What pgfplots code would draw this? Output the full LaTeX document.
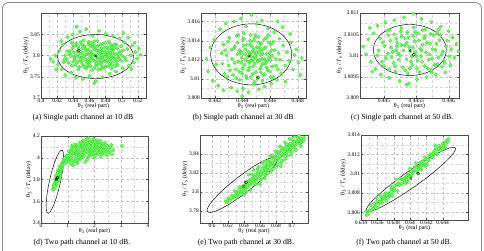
\documentclass[border=0pt]{standalone}
\usepackage{fontspec}
\setmainfont{Liberation Serif}
\usepackage{pgfplots}
\pgfplotsset{compat=1.18}

\definecolor{cloudedge}{RGB}{45,225,40}
\definecolor{cloudfill}{RGB}{125,252,105}
\definecolor{framegray}{RGB}{140,140,140}

\pgfplotsset{
  panel/.style={
    scale only axis,
    axis line style={black!70, line width=0.4pt},
    tick style={black!70, line width=0.3pt},
    major tick length=2pt, minor tick length=0pt,
    grid=both,
    major grid style={densely dashed, gray!45, line width=0.3pt},
    minor grid style={densely dashed, gray!30, line width=0.3pt},
    minor tick num=1,
    tick label style={font=\fontsize{5.5}{6}\selectfont, inner sep=1pt},
    label style={font=\fontsize{6}{7}\selectfont},
    xlabel={θ\textsubscript{1} (real part)},
    ylabel={θ\textsubscript{3} / \textit{T}\textsubscript{s} (delay)},
    xlabel style={yshift=4pt},
    ylabel style={yshift=-3pt},
    scaled ticks=false,
    /pgf/number format/assume math mode=true,
    xticklabel style={/pgf/number format/fixed, /pgf/number format/precision=4},
    yticklabel style={/pgf/number format/fixed, /pgf/number format/precision=4},
  },
  cloud/.style={only marks, mark=*, mark size=1.7pt,
    mark options={draw=cloudedge, fill=cloudfill, line width=0.35pt}},
  est/.style={only marks, mark=x, mark size=1.6pt, black, mark options={line width=0.4pt}},
  truth/.style={only marks, mark=o, mark size=1.6pt, black, mark options={line width=0.4pt}},
}

\begin{document}
\begin{tikzpicture}
\useasboundingbox (0pt,0pt) rectangle (484pt,250pt);
\draw[framegray, line width=0.8pt, rounded corners=6pt]
  (2.5pt,-12pt) -- (2.5pt,247.5pt) -- (481.5pt,247.5pt) -- (481.5pt,-12pt);

% (a) single path, 10 dB
\begin{axis}[panel, at={(41pt,152pt)}, anchor=south west, width=105pt, height=85pt,
  xmin=0.4, xmax=0.53, ymin=3.7, ymax=3.9,
  xtick={0.4,0.42,0.44,0.46,0.48,0.5,0.52}, ytick={3.7,3.75,3.8,3.85}]
\addplot[cloud] coordinates {
(0.432,3.792) (0.436,3.811) (0.438,3.776) (0.441,3.824) (0.443,3.800) (0.445,3.785) (0.446,3.768) (0.447,3.816) (0.449,3.831) (0.450,3.795) (0.451,3.807) (0.452,3.779) (0.454,3.822) (0.455,3.790) (0.456,3.771) (0.457,3.803) (0.458,3.814) (0.459,3.828) (0.460,3.784) (0.461,3.797) (0.462,3.809) (0.463,3.766) (0.464,3.820) (0.465,3.789) (0.466,3.833) (0.467,3.801) (0.468,3.776) (0.469,3.812) (0.470,3.793) (0.471,3.824) (0.472,3.783) (0.473,3.805) (0.474,3.769) (0.475,3.817) (0.476,3.797) (0.477,3.828) (0.478,3.787) (0.479,3.810) (0.480,3.775) (0.481,3.802) (0.482,3.819) (0.483,3.791) (0.484,3.832) (0.485,3.781) (0.486,3.806) (0.487,3.770) (0.488,3.814) (0.489,3.796) (0.490,3.825) (0.491,3.786) (0.492,3.803) (0.494,3.817) (0.495,3.778) (0.496,3.797) (0.498,3.810) (0.499,3.788) (0.440,3.808) (0.444,3.829) (0.448,3.773) (0.453,3.836) (0.437,3.799) (0.434,3.783) (0.442,3.790) (0.447,3.797) (0.455,3.802) (0.463,3.795) (0.471,3.806) (0.479,3.797) (0.486,3.792) (0.493,3.793) (0.458,3.791) (0.466,3.815) (0.474,3.789) (0.483,3.808) (0.452,3.818) (0.470,3.779) (0.461,3.823) (0.476,3.772)
(0.435,3.805) (0.439,3.818) (0.441,3.795) (0.443,3.778) (0.446,3.822) (0.448,3.804) (0.450,3.786) (0.451,3.826) (0.453,3.798) (0.454,3.773) (0.456,3.812) (0.457,3.784) (0.459,3.832) (0.460,3.806) (0.461,3.775) (0.462,3.789) (0.464,3.803) (0.465,3.826) (0.466,3.770) (0.467,3.786) (0.468,3.820) (0.469,3.797) (0.470,3.834) (0.471,3.767) (0.472,3.812) (0.473,3.792) (0.474,3.826) (0.475,3.780) (0.476,3.808) (0.477,3.790) (0.478,3.818) (0.479,3.771) (0.480,3.830) (0.481,3.785) (0.482,3.797) (0.483,3.775) (0.484,3.815) (0.485,3.800) (0.486,3.826) (0.487,3.787) (0.488,3.778) (0.489,3.808) (0.490,3.800) (0.491,3.818) (0.492,3.775) (0.493,3.826) (0.494,3.786) (0.495,3.805) (0.497,3.792) (0.499,3.822) (0.500,3.801) (0.502,3.812) (0.504,3.795) (0.445,3.810) (0.449,3.790) (0.455,3.815) (0.458,3.777) (0.463,3.830) (0.469,3.782) (0.475,3.800) (0.478,3.806) (0.482,3.788) (0.487,3.820) (0.440,3.786) (0.438,3.830) (0.433,3.810) (0.430,3.800) (0.428,3.784)
(0.412,3.792) (0.415,3.785) (0.418,3.800) (0.421,3.779) (0.423,3.812) (0.426,3.768) (0.427,3.826) (0.429,3.791) (0.430,3.754) (0.433,3.843) (0.437,3.760) (0.439,3.849) (0.443,3.748) (0.448,3.856) (0.452,3.745) (0.456,3.862) (0.460,3.752) (0.464,3.846) (0.468,3.740) (0.472,3.858) (0.476,3.749) (0.480,3.851) (0.485,3.757) (0.489,3.845) (0.493,3.762) (0.497,3.840) (0.501,3.770) (0.503,3.831) (0.505,3.789) (0.507,3.815) (0.509,3.776) (0.511,3.800) (0.513,3.823) (0.515,3.784) (0.517,3.808) (0.519,3.793) (0.521,3.817) (0.523,3.802) (0.512,3.768) (0.508,3.842) (0.516,3.830) (0.502,3.853) (0.444,3.868) (0.466,3.735) (0.425,3.834) (0.419,3.767)
};
\draw[black, line width=0.45pt] (axis cs:0.4675,3.7976) ellipse [x radius=38pt, y radius=22pt];
\addplot[truth] coordinates {(0.4467,3.8112)};
\addplot[est] coordinates {(0.4675,3.7993)};
\end{axis}

% (b) single path, 30 dB
\begin{axis}[panel, at={(201pt,152pt)}, anchor=south west, width=105pt, height=85pt,
  xmin=0.441, xmax=0.4486, ymin=3.808, ymax=3.8169,
  xtick={0.442,0.444,0.446,0.448}, ytick={3.808,3.81,3.812,3.814,3.816}]
\addplot[cloud] coordinates {
(0.44325,3.8121) (0.44338,3.8132) (0.44351,3.8110) (0.44364,3.8138) (0.44372,3.8118) (0.44385,3.8127) (0.44396,3.8106) (0.44402,3.8141) (0.44415,3.8115) (0.44423,3.8131) (0.44436,3.8123) (0.44441,3.8109) (0.44453,3.8136) (0.44460,3.8119) (0.44468,3.8128) (0.44475,3.8113) (0.44482,3.8140) (0.44490,3.8124) (0.44497,3.8107) (0.44505,3.8133) (0.44512,3.8118) (0.44520,3.8129) (0.44528,3.8111) (0.44535,3.8137) (0.44543,3.8121) (0.44550,3.8104) (0.44558,3.8132) (0.44566,3.8116) (0.44574,3.8126) (0.44583,3.8109) (0.44591,3.8138) (0.44600,3.8120) (0.44610,3.8130) (0.44618,3.8113) (0.44332,3.8104) (0.44358,3.8145) (0.44380,3.8099) (0.44410,3.8148) (0.44430,3.8101) (0.44458,3.8146) (0.44486,3.8097) (0.44515,3.8144) (0.44545,3.8098) (0.44570,3.8143) (0.44605,3.8102) (0.44625,3.8139) (0.44640,3.8121) (0.44655,3.8110) (0.44390,3.8117) (0.44447,3.8117) (0.44500,3.8121) (0.44470,3.8134) (0.44420,3.8126) (0.44530,3.8125) (0.44560,3.8121) (0.44408,3.8135) (0.44478,3.8120) (0.44538,3.8114) (0.44365,3.8126) (0.44595,3.8127)
(0.44255,3.8116) (0.44262,3.8136) (0.44270,3.8105) (0.44283,3.8125) (0.44295,3.8139) (0.44310,3.8109) (0.44322,3.8131) (0.44345,3.8117) (0.44356,3.8101) (0.44370,3.8146) (0.44378,3.8130) (0.44392,3.8122) (0.44400,3.8111) (0.44412,3.8142) (0.44426,3.8103) (0.44433,3.8136) (0.44444,3.8128) (0.44450,3.8112) (0.44457,3.8140) (0.44463,3.8123) (0.44472,3.8105) (0.44480,3.8131) (0.44488,3.8116) (0.44494,3.8146) (0.44502,3.8127) (0.44510,3.8100) (0.44518,3.8138) (0.44524,3.8120) (0.44533,3.8107) (0.44540,3.8130) (0.44548,3.8116) (0.44555,3.8141) (0.44562,3.8105) (0.44568,3.8133) (0.44577,3.8118) (0.44586,3.8146) (0.44590,3.8122) (0.44598,3.8108) (0.44608,3.8136) (0.44615,3.8124) (0.44622,3.8102) (0.44632,3.8130) (0.44645,3.8114) (0.44660,3.8127) (0.44672,3.8120) (0.44440,3.8118) (0.44455,3.8126) (0.44470,3.8119) (0.44485,3.8128) (0.44420,3.8120) (0.44395,3.8128) (0.44525,3.8133) (0.44545,3.8126) (0.44575,3.8112) (0.44345,3.8134) (0.44375,3.8108) (0.44460,3.8102) (0.44490,3.8143)
(0.44140,3.8121) (0.44152,3.8108) (0.44168,3.8133) (0.44185,3.8098) (0.44196,3.8141) (0.44210,3.8115) (0.44225,3.8093) (0.44238,3.8152) (0.44250,3.8127) (0.44262,3.8088) (0.44278,3.8158) (0.44290,3.8102) (0.44305,3.8143) (0.44318,3.8091) (0.44340,3.8160) (0.44362,3.8087) (0.44388,3.8163) (0.44405,3.8090) (0.44425,3.8155) (0.44445,3.8086) (0.44465,3.8167) (0.44480,3.8094) (0.44502,3.8158) (0.44520,3.8089) (0.44540,3.8161) (0.44560,3.8092) (0.44585,3.8153) (0.44610,3.8095) (0.44630,3.8149) (0.44650,3.8099) (0.44668,3.8142) (0.44680,3.8106) (0.44695,3.8135) (0.44710,3.8114) (0.44722,3.8128) (0.44738,3.8119) (0.44750,3.8138) (0.44765,3.8110) (0.44778,3.8125) (0.44790,3.8131) (0.44805,3.8117) (0.44818,3.8104) (0.44830,3.8122) (0.44712,3.8097) (0.44745,3.8147) (0.44690,3.8154) (0.44300,3.8114) (0.44275,3.8130) (0.44655,3.8160) (0.44398,3.8082)
};
\draw[black, line width=0.45pt] (axis cs:0.44463,3.81257) ellipse [x radius=40.5pt, y radius=30.5pt];
\addplot[truth] coordinates {(0.44513,3.81017)};
\addplot[est] coordinates {(0.4445,3.8124)};
\end{axis}

% (c) single path, 50 dB
\begin{axis}[panel, at={(360pt,152pt)}, anchor=south west, width=99pt, height=85pt,
  xmin=0.44463, xmax=0.44616, ymin=3.809, ymax=3.811,
  xtick={0.445,0.4455,0.446}, ytick={3.809,3.8095,3.81,3.8105,3.811}]
\addplot[cloud] coordinates {
(0.44492,3.81012) (0.44498,3.81031) (0.44503,3.80994) (0.44507,3.81047) (0.44511,3.81018) (0.44515,3.80983) (0.44519,3.81039) (0.44522,3.81005) (0.44526,3.81056) (0.44529,3.80972) (0.44532,3.81024) (0.44535,3.80991) (0.44538,3.81043) (0.44541,3.81010) (0.44544,3.80978) (0.44547,3.81034) (0.44550,3.80999) (0.44553,3.81052) (0.44556,3.81016) (0.44559,3.80985) (0.44562,3.81040) (0.44565,3.81007) (0.44568,3.80969) (0.44571,3.81029) (0.44574,3.80993) (0.44577,3.81048) (0.44580,3.81013) (0.44583,3.80980) (0.44586,3.81036) (0.44589,3.81002) (0.44593,3.80988) (0.44596,3.81021) (0.44500,3.80975) (0.44509,3.81060) (0.44518,3.80962) (0.44527,3.81064) (0.44537,3.80958) (0.44546,3.81066) (0.44555,3.80961) (0.44564,3.81061) (0.44573,3.80966) (0.44582,3.81055) (0.44590,3.80974) (0.44525,3.81000) (0.44545,3.81018) (0.44560,3.81025) (0.44535,3.81030) (0.44520,3.81022) (0.44552,3.80989) (0.44570,3.81003) (0.44512,3.80996) (0.44540,3.80970)
(0.44490,3.81000) (0.44494,3.81040) (0.44497,3.80985) (0.44501,3.81022) (0.44505,3.81058) (0.44508,3.80968) (0.44510,3.81035) (0.44513,3.81008) (0.44516,3.81050) (0.44517,3.80975) (0.44521,3.81030) (0.44523,3.80990) (0.44528,3.81045) (0.44530,3.81012) (0.44533,3.80965) (0.44536,3.81055) (0.44539,3.81020) (0.44542,3.80986) (0.44545,3.81046) (0.44548,3.81008) (0.44551,3.80970) (0.44554,3.81035) (0.44557,3.80998) (0.44560,3.81060) (0.44563,3.80975) (0.44566,3.81030) (0.44569,3.80990) (0.44572,3.81050) (0.44575,3.81015) (0.44578,3.80978) (0.44581,3.81028) (0.44584,3.80995) (0.44587,3.81048) (0.44591,3.81010) (0.44594,3.80982) (0.44598,3.81035) (0.44601,3.80998) (0.44527,3.81025) (0.44543,3.80998) (0.44558,3.81012) (0.44533,3.81040) (0.44548,3.81055) (0.44563,3.81045) (0.44519,3.81012) (0.44506,3.81005) (0.44585,3.81062) (0.44574,3.80960)
(0.44468,3.81021) (0.44472,3.81003) (0.44476,3.81038) (0.44480,3.80985) (0.44484,3.81052) (0.44487,3.80968) (0.44490,3.81070) (0.44495,3.80955) (0.44502,3.81078) (0.44508,3.80947) (0.44516,3.81083) (0.44524,3.80940) (0.44531,3.81090) (0.44539,3.80934) (0.44545,3.81098) (0.44551,3.80944) (0.44558,3.81086) (0.44566,3.80949) (0.44573,3.81079) (0.44580,3.80955) (0.44588,3.81068) (0.44595,3.80960) (0.44600,3.81058) (0.44603,3.80978) (0.44606,3.81042) (0.44609,3.80995) (0.44612,3.81027) (0.44615,3.81010) (0.44618,3.80991) (0.44604,3.81015) (0.44550,3.81104) (0.44535,3.80931) (0.44478,3.81065) (0.44482,3.80962)
};
\draw[black, line width=0.45pt] (axis cs:0.4454,3.81013) ellipse [x radius=36.5pt, y radius=25.5pt];
\addplot[truth] coordinates {(0.44546,3.81002)};
\addplot[est] coordinates {(0.44540,3.81012)};
\end{axis}

% (d) two path, 10 dB
\begin{axis}[panel, at={(41pt,27pt)}, anchor=south west, width=107pt, height=87pt,
  xmin=0, xmax=4, ymin=3.4, ymax=4.2,
  xtick={0,1,2,3,4}, ytick={3.4,3.6,3.8,4,4.2}]
\addplot[cloud] coordinates {
(0.44,3.71) (0.47,3.73) (0.50,3.72) (0.49,3.75) (0.53,3.74) (0.52,3.77) (0.56,3.76) (0.55,3.79) (0.59,3.78) (0.58,3.81) (0.62,3.80) (0.61,3.83) (0.65,3.82) (0.64,3.85) (0.68,3.84) (0.67,3.87) (0.71,3.86) (0.70,3.89) (0.74,3.88) (0.73,3.91) (0.77,3.90) (0.76,3.93) (0.80,3.92) (0.79,3.95) (0.83,3.94) (0.86,3.96) (0.82,3.97) (0.89,3.95) (0.88,3.99) (0.92,3.97) (0.95,4.00) (0.98,3.98) (0.60,3.76) (0.66,3.79) (0.72,3.83) (0.57,3.84) (0.69,3.92) (0.63,3.88)
(0.46,3.74) (0.51,3.76) (0.54,3.80) (0.57,3.78) (0.60,3.82) (0.63,3.81) (0.66,3.86) (0.69,3.85) (0.72,3.90) (0.75,3.89) (0.78,3.94) (0.81,3.93) (0.85,3.98) (0.90,4.00) (0.94,3.96) (0.97,4.02) (0.55,3.73) (0.62,3.86)
(1.02,4.02) (1.05,3.96) (1.08,4.05) (1.10,3.99) (1.13,4.08) (1.15,3.94) (1.18,4.03) (1.21,4.10) (1.24,3.97) (1.27,4.06) (1.30,4.01) (1.33,4.12) (1.36,3.95) (1.39,4.07) (1.42,4.03) (1.45,4.14) (1.48,3.99) (1.51,4.09) (1.54,4.05) (1.57,4.16) (1.60,4.01) (1.63,4.11) (1.66,4.07) (1.69,4.17) (1.72,3.98) (1.75,4.13) (1.78,4.04) (1.81,4.09) (1.84,4.15) (1.87,4.02) (1.90,4.11) (1.93,4.06) (1.96,4.17) (1.99,4.00) (2.02,4.13) (2.05,4.08) (2.08,4.03) (2.11,4.14) (2.14,4.10) (2.17,4.05) (2.20,4.16) (2.23,4.01) (2.26,4.11) (2.29,4.07) (2.32,4.13) (2.35,4.04) (2.38,4.09) (2.42,4.12) (2.46,4.02) (2.50,4.08) (2.55,4.05) (2.60,4.10) (2.66,4.03) (1.25,4.12) (1.50,4.00) (1.70,4.10) (1.85,4.06) (2.00,4.09) (1.40,3.98) (1.60,4.14) (1.12,4.00) (1.35,4.05) (1.95,4.03) (2.10,4.07) (3.02,4.11) (1.78,4.18) (1.65,3.96) (1.20,3.93)
(1.04,4.06) (1.07,3.99) (1.11,4.04) (1.14,4.11) (1.17,3.97) (1.22,4.06) (1.26,4.02) (1.29,4.09) (1.32,3.98) (1.37,4.10) (1.41,4.06) (1.44,4.01) (1.47,4.11) (1.52,4.03) (1.55,4.13) (1.58,4.07) (1.62,4.04) (1.67,4.13) (1.71,4.06) (1.74,4.16) (1.77,4.01) (1.80,4.12) (1.83,4.07) (1.88,4.16) (1.91,4.04) (1.94,4.12) (1.98,4.14) (2.01,4.05) (2.04,4.11) (2.07,4.16) (2.12,4.04) (2.15,4.12) (2.19,4.08) (2.22,4.14) (2.27,4.04) (2.31,4.10) (2.36,4.07) (2.40,4.14) (2.44,4.06) (2.48,4.11) (2.53,4.09) (2.58,4.06) (2.63,4.12) (2.70,4.07) (1.45,4.05) (1.55,4.09) (1.75,4.08) (1.90,4.08) (2.25,4.08) (1.30,4.04) (1.15,4.05)
};
\draw[black, line width=0.45pt, rotate around={77.5:(axis cs:0.52,3.78)}] (axis cs:0.52,3.78) ellipse [x radius=32.3pt, y radius=5.5pt];
\addplot[truth] coordinates {(0.62,3.816)};
\addplot[est] coordinates {(0.57,3.80)};
\end{axis}

% (e) two path, 30 dB
\begin{axis}[panel, at={(200pt,27pt)}, anchor=south west, width=108pt, height=88pt,
  xmin=0.585, xmax=0.72, ymin=3.767, ymax=3.86,
  xtick={0.6,0.62,0.64,0.66,0.68,0.7}, ytick={3.78,3.8,3.82,3.84}]
\addplot[cloud] coordinates {
(0.617,3.790) (0.620,3.793) (0.622,3.791) (0.625,3.796) (0.627,3.794) (0.630,3.799) (0.631,3.795) (0.633,3.801) (0.635,3.798) (0.636,3.804) (0.638,3.800) (0.639,3.806) (0.641,3.803) (0.642,3.808) (0.644,3.805) (0.645,3.811) (0.647,3.807) (0.648,3.813) (0.650,3.809) (0.651,3.815) (0.653,3.811) (0.654,3.818) (0.656,3.813) (0.657,3.820) (0.659,3.816) (0.660,3.822) (0.662,3.818) (0.663,3.825) (0.665,3.820) (0.666,3.827) (0.668,3.823) (0.669,3.830) (0.671,3.825) (0.672,3.832) (0.674,3.828) (0.675,3.835) (0.677,3.830) (0.678,3.837) (0.680,3.833) (0.681,3.840) (0.683,3.835) (0.684,3.842) (0.686,3.837) (0.687,3.844) (0.689,3.839) (0.690,3.846) (0.692,3.841) (0.693,3.848) (0.695,3.843) (0.696,3.850) (0.698,3.845) (0.699,3.851) (0.701,3.847) (0.702,3.853) (0.704,3.849) (0.706,3.854) (0.708,3.851) (0.710,3.855) (0.712,3.853) (0.714,3.854)
(0.619,3.789) (0.624,3.793) (0.629,3.796) (0.632,3.798) (0.637,3.802) (0.640,3.805) (0.643,3.806) (0.646,3.809) (0.649,3.811) (0.652,3.813) (0.655,3.815) (0.658,3.818) (0.661,3.819) (0.664,3.822) (0.667,3.824) (0.670,3.826) (0.673,3.829) (0.676,3.831) (0.679,3.833) (0.682,3.836) (0.685,3.838) (0.688,3.840) (0.691,3.843) (0.694,3.845) (0.697,3.847) (0.700,3.849) (0.703,3.851) (0.706,3.852) (0.709,3.855) (0.712,3.856) (0.670,3.833) (0.676,3.838) (0.682,3.842) (0.688,3.846) (0.694,3.850) (0.700,3.855) (0.674,3.822) (0.680,3.826) (0.686,3.831) (0.692,3.835) (0.698,3.839) (0.704,3.845) (0.663,3.830) (0.657,3.824) (0.650,3.818) (0.666,3.814) (0.710,3.851) (0.707,3.858)
(0.670,3.820) (0.676,3.824) (0.682,3.829) (0.688,3.833) (0.694,3.838) (0.700,3.842) (0.673,3.838) (0.679,3.843) (0.685,3.848) (0.691,3.852) (0.697,3.856) (0.665,3.832) (0.658,3.826) (0.652,3.823) (0.646,3.818) (0.655,3.808) (0.661,3.813) (0.667,3.817) (0.640,3.797) (0.634,3.805) (0.628,3.801) (0.648,3.802) (0.703,3.858) (0.709,3.859) (0.705,3.844) (0.711,3.848) (0.715,3.857) (0.686,3.827) (0.660,3.808) (0.643,3.800)
};
\draw[black, line width=0.45pt, rotate around={37.6:(axis cs:0.6379,3.8074)}] (axis cs:0.6379,3.8074) ellipse [x radius=44pt, y radius=8.5pt];
\addplot[truth] coordinates {(0.6425,3.810)};
\addplot[est] coordinates {(0.6395,3.8056)};
\end{axis}

% (f) two path, 50 dB
\begin{axis}[panel, at={(361pt,30pt)}, anchor=south west, width=107pt, height=85pt,
  xmin=0.634, xmax=0.6471, ymin=3.8052, ymax=3.814,
  xtick={0.634,0.636,0.638,0.64,0.642,0.644}, ytick={3.806,3.808,3.81,3.812,3.814}]
\addplot[cloud] coordinates {
(0.6346,3.8061) (0.6349,3.8058) (0.6352,3.8067) (0.6355,3.8064) (0.6358,3.8069) (0.6361,3.8065) (0.6364,3.8077) (0.6367,3.8074) (0.6370,3.8080) (0.6373,3.8075) (0.6376,3.8087) (0.6379,3.8082) (0.6382,3.8088) (0.6385,3.8082) (0.6388,3.8095) (0.6391,3.8090) (0.6394,3.8096) (0.6397,3.8092) (0.6400,3.8105) (0.6403,3.8101) (0.6406,3.8107) (0.6409,3.8102) (0.6412,3.8111) (0.6415,3.8109) (0.6418,3.8117) (0.6421,3.8110) (0.6424,3.8119) (0.6427,3.8117) (0.6430,3.8124) (0.6433,3.8120) (0.6436,3.8129) (0.6439,3.8127) (0.6442,3.8132) (0.6445,3.8134) (0.6447,3.8136)
(0.6350,3.8062) (0.6356,3.8069) (0.6362,3.8069) (0.6368,3.8076) (0.6374,3.8080) (0.6380,3.8083) (0.6386,3.8090) (0.6392,3.8094) (0.6398,3.8099) (0.6404,3.8102) (0.6410,3.8107) (0.6416,3.8113) (0.6422,3.8116) (0.6428,3.8120) (0.6434,3.8125) (0.6440,3.8131) (0.6359,3.8075) (0.6371,3.8072) (0.6383,3.8094) (0.6395,3.8090) (0.6407,3.8111) (0.6419,3.8108) (0.6431,3.8129) (0.6443,3.8127) (0.6365,3.8073) (0.6377,3.8084) (0.6389,3.8089) (0.6401,3.8102) (0.6413,3.8108) (0.6425,3.8120) (0.6437,3.8126)
(0.6347,3.8057) (0.6353,3.8062) (0.6357,3.8066) (0.6363,3.8071) (0.6366,3.8070) (0.6369,3.8078) (0.6372,3.8079) (0.6375,3.8079) (0.6378,3.8086) (0.6381,3.8084) (0.6384,3.8089) (0.6387,3.8088) (0.6390,3.8094) (0.6393,3.8093) (0.6396,3.8098) (0.6399,3.8097) (0.6402,3.8098) (0.6405,3.8103) (0.6408,3.8106) (0.6411,3.8105) (0.6414,3.8112) (0.6417,3.8110) (0.6420,3.8115) (0.6423,3.8114) (0.6426,3.8119) (0.6429,3.8122) (0.6432,3.8121) (0.6435,3.8126) (0.6438,3.8124) (0.6441,3.8129) (0.6444,3.8131) (0.6446,3.8133) (0.6360,3.8072) (0.6378,3.8077) (0.6396,3.8094) (0.6414,3.8104) (0.6432,3.8126)
};
\draw[black, line width=0.45pt, rotate around={35.3:(axis cs:0.6401,3.8094)}] (axis cs:0.6401,3.8094) ellipse [x radius=54.5pt, y radius=8pt];
\addplot[truth] coordinates {(0.641,3.810)};
\addplot[est] coordinates {(0.6401,3.8095)};
\end{axis}

% sub-figure captions
\begin{scope}[font=\fontsize{7.8}{9}\selectfont]
\node at (83pt,132pt) {(a) Single path channel at 10 dB};
\node at (243pt,132pt) {(b) Single path channel at 30 dB};
\node at (402pt,132pt) {(c) Single path channel at 50 dB.};
\node at (82pt,7pt) {(d) Two path channel at 10 dB.};
\node at (246pt,7pt) {(e) Two path channel at 30 dB.};
\node at (404pt,7pt) {(f) Two path channel at 50 dB.};
\end{scope}
\end{tikzpicture}
\end{document}
